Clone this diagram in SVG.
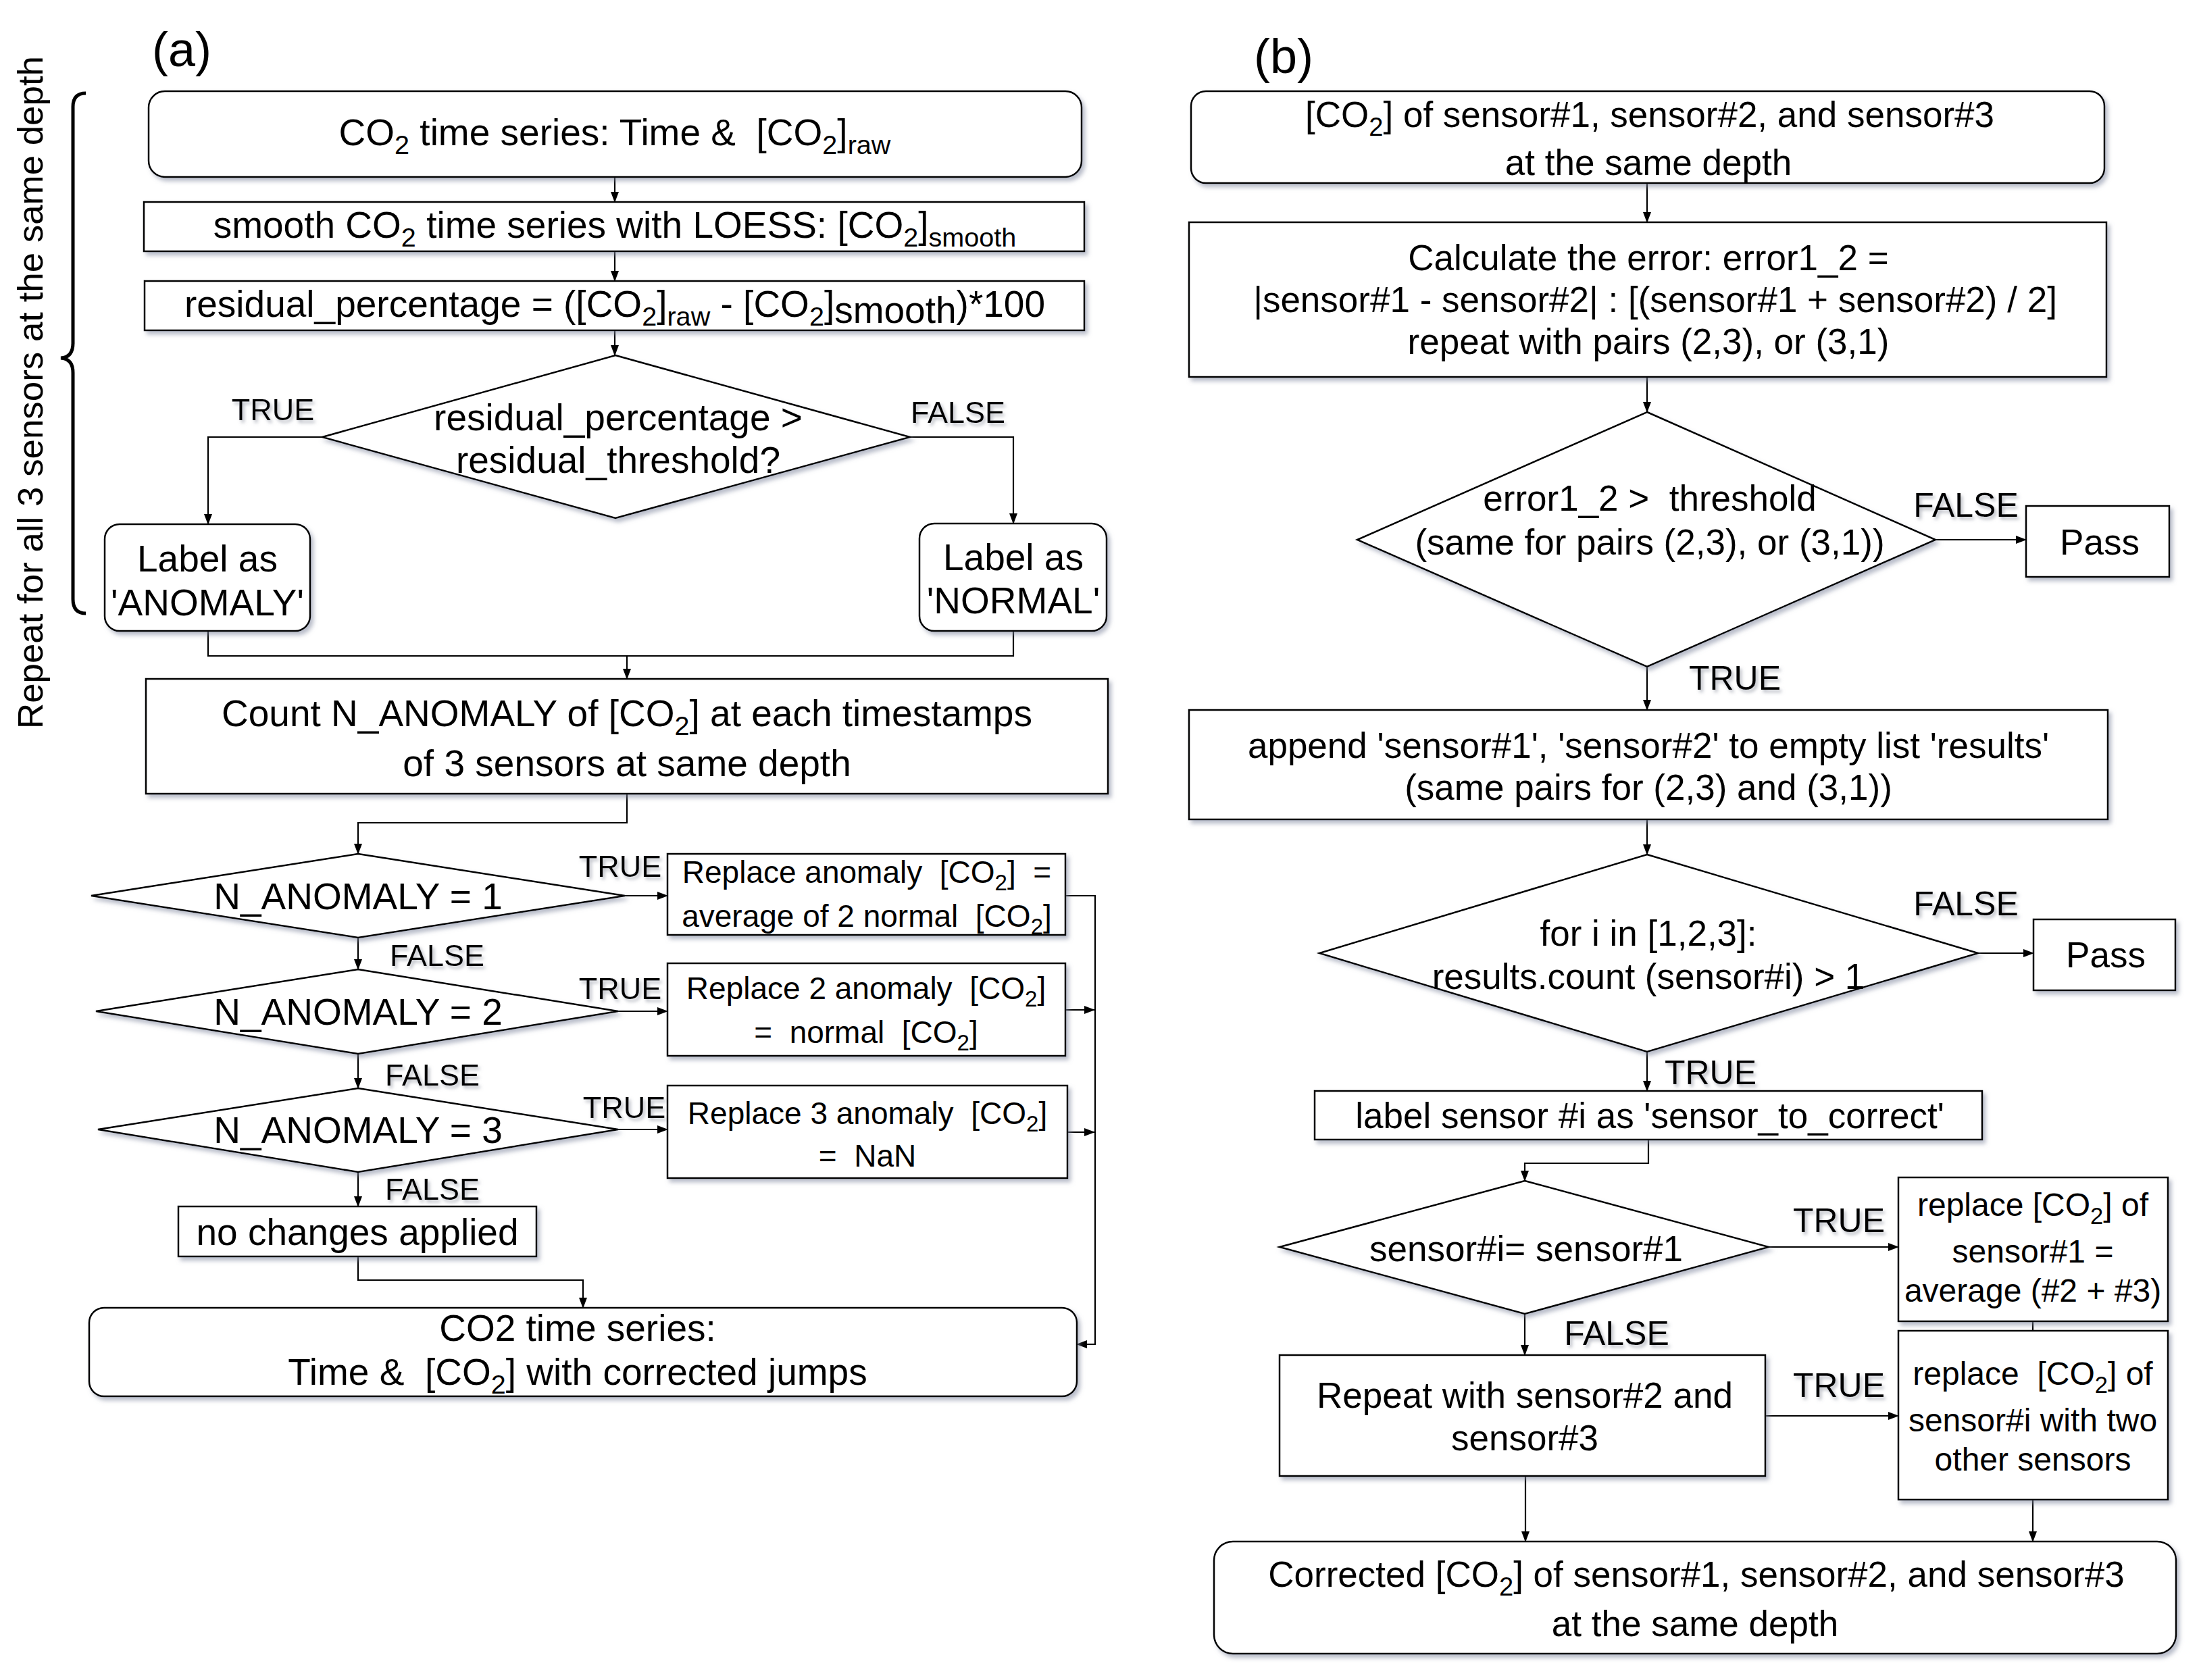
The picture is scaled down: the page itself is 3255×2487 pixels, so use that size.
<svg xmlns="http://www.w3.org/2000/svg" width="3255" height="2487" viewBox="0 0 3255 2487" xml:space="preserve">
<defs>
<marker id="ah" markerUnits="userSpaceOnUse" markerWidth="16" markerHeight="12" refX="15" refY="6" orient="auto"><path d="M0,0 L16,6 L0,12 z" fill="#000"/></marker>
<filter id="sh" x="-5%" y="-10%" width="115%" height="130%"><feDropShadow dx="4" dy="5" stdDeviation="3" flood-color="#7d869c" flood-opacity="0.55"/></filter>
<filter id="tsh" x="-10%" y="-20%" width="130%" height="160%"><feDropShadow dx="3" dy="4" stdDeviation="2.5" flood-color="#8a8f9c" flood-opacity="0.6"/></filter>
</defs>
<style>
.bx{fill:#fff;stroke:#000;stroke-width:2.5;filter:url(#sh)}
.cn{fill:none;stroke:#000;stroke-width:2.2}
.ar{marker-end:url(#ah)}
text{font-family:"Liberation Sans",Arial,sans-serif;fill:#000;white-space:pre}
.t{font-size:55px;text-anchor:middle}
.tb{font-size:53px;text-anchor:middle}
.ts{font-size:46px;text-anchor:middle}
.tm{font-size:48px;text-anchor:middle}
.lb{font-size:45px;text-anchor:middle;filter:url(#tsh)}
.lbb{font-size:50px;text-anchor:middle;filter:url(#tsh)}
.s{font-size:72%}
</style>
<rect width="3255" height="2487" fill="#fff"/>

<!-- Panel labels -->
<text x="225" y="98" font-size="72">(a)</text>
<text x="1856" y="108" font-size="72">(b)</text>

<!-- Side annotation -->
<g id="repeat-brace">
<path d="M127,138 Q108,138 108,158 L108,508 Q108,529 90,530 Q108,531 108,552 L108,887 Q108,908 127,908" fill="none" stroke="#000" stroke-width="5"/>
<text transform="translate(44,581) rotate(-90)" x="0" y="19" font-size="52" text-anchor="middle" textLength="996" lengthAdjust="spacingAndGlyphs">Repeat for all 3 sensors at the same depth</text>
</g>

<!-- Connectors -->
<g id="connectors">
<!-- panel a -->
<path class="cn ar" d="M910,262 V299"/>
<path class="cn ar" d="M910,372 V416"/>
<path class="cn ar" d="M910,489 V526"/>
<path class="cn ar" d="M477,647 H308 V776"/>
<path class="cn ar" d="M1347,647 H1500 V775"/>
<path class="cn" d="M308,934 V971 H1500 V934"/>
<path class="cn ar" d="M928,971 V1005"/>
<path class="cn ar" d="M928,1175 V1218 H530 V1264"/>
<path class="cn ar" d="M925,1326 H988"/>
<path class="cn ar" d="M530,1388 V1435"/>
<path class="cn ar" d="M915,1497 H988"/>
<path class="cn ar" d="M530,1560 V1611"/>
<path class="cn ar" d="M915,1672 H988"/>
<path class="cn ar" d="M530,1735 V1786"/>
<path class="cn ar" d="M530,1860 V1895 H863 V1936"/>
<path class="cn ar" d="M1577,1326 H1621 V1990 H1594"/>
<path class="cn ar" d="M1577,1495 H1620"/>
<path class="cn ar" d="M1580,1676 H1620"/>
<!-- panel b -->
<path class="cn ar" d="M2438,271 V329"/>
<path class="cn ar" d="M2438,558 V610"/>
<path class="cn ar" d="M2865,799 H2999"/>
<path class="cn ar" d="M2438,987 V1051"/>
<path class="cn ar" d="M2438,1213 V1265"/>
<path class="cn ar" d="M2928,1411 H3010"/>
<path class="cn ar" d="M2438,1557 V1615"/>
<path class="cn ar" d="M2440,1687 V1722 H2257 V1748"/>
<path class="cn ar" d="M2618,1846 H2810"/>
<path class="cn" d="M3009,1956 V1970"/>
<path class="cn ar" d="M2257,1945 V2006"/>
<path class="cn ar" d="M2613,2096 H2810"/>
<path class="cn ar" d="M2258,2185 V2282"/>
<path class="cn ar" d="M3009,2220 V2282"/>
</g>

<!-- Edge labels -->
<g id="edge-labels">
<text class="lb" x="404" y="622">TRUE</text>
<text class="lb" x="1418" y="626">FALSE</text>
<text class="lb" x="918" y="1298">TRUE</text>
<text class="lb" x="647" y="1430">FALSE</text>
<text class="lb" x="918" y="1479">TRUE</text>
<text class="lb" x="640" y="1607">FALSE</text>
<text class="lb" x="924" y="1655">TRUE</text>
<text class="lb" x="640" y="1776">FALSE</text>
<text class="lbb" x="2910" y="765">FALSE</text>
<text class="lbb" x="2568" y="1021">TRUE</text>
<text class="lbb" x="2910" y="1355">FALSE</text>
<text class="lbb" x="2532" y="1605">TRUE</text>
<text class="lbb" x="2722" y="1824">TRUE</text>
<text class="lbb" x="2393" y="1991">FALSE</text>
<text class="lbb" x="2722" y="2068">TRUE</text>
</g>

<!-- Panel (a) nodes -->
<g id="a-start">
<rect class="bx" x="220" y="135" width="1381" height="127" rx="24"/>
<text class="t" x="910" y="215">CO<tspan class="s" dy="13">2</tspan><tspan dy="-13"> time series: Time &amp;  [CO</tspan><tspan class="s" dy="13">2</tspan><tspan dy="-13">]</tspan><tspan class="s" dy="13">raw</tspan></text>
</g>
<g id="a-smooth">
<rect class="bx" x="213" y="299" width="1392" height="73"/>
<text class="t" x="910" y="352">smooth CO<tspan class="s" dy="13">2</tspan><tspan dy="-13"> time series with LOESS: [CO</tspan><tspan class="s" dy="13">2</tspan><tspan dy="-13">]</tspan><tspan class="s" dy="13">smooth</tspan></text>
</g>
<g id="a-residual">
<rect class="bx" x="214" y="416" width="1391" height="73"/>
<text class="t" x="910" y="469">residual_percentage = ([CO<tspan class="s" dy="13">2</tspan><tspan dy="-13">]</tspan><tspan class="s" dy="13">raw</tspan><tspan dy="-13"> - [CO</tspan><tspan class="s" dy="13">2</tspan><tspan dy="-13">]</tspan><tspan dy="9">smooth</tspan><tspan dy="-9">)*100</tspan></text>
</g>
<g id="a-decision">
<polygon class="bx" points="911,526 1347,647 911,767 477,647"/>
<text class="t" x="915" y="637">residual_percentage &gt;</text>
<text class="t" x="915" y="700">residual_threshold?</text>
</g>
<g id="a-anomaly">
<rect class="bx" x="155" y="776" width="304" height="158" rx="22"/>
<text class="t" x="307" y="846">Label as</text>
<text class="t" x="307" y="911">'ANOMALY'</text>
</g>
<g id="a-normal">
<rect class="bx" x="1361" y="775" width="277" height="159" rx="22"/>
<text class="t" x="1500" y="844">Label as</text>
<text class="t" x="1500" y="908">'NORMAL'</text>
</g>
<g id="a-count">
<rect class="bx" x="216" y="1005" width="1424" height="170"/>
<text class="t" x="928" y="1075">Count N_ANOMALY of [CO<tspan class="s" dy="13">2</tspan><tspan dy="-13">] at each timestamps</tspan></text>
<text class="t" x="928" y="1149">of 3 sensors at same depth</text>
</g>
<g id="a-n1">
<polygon class="bx" points="530,1264 925,1326 530,1388 135,1326"/>
<text class="t" x="530" y="1346">N_ANOMALY = 1</text>
</g>
<g id="a-r1">
<rect class="bx" x="988" y="1264" width="589" height="120"/>
<text class="ts" x="1283" y="1307">Replace anomaly  [CO<tspan class="s" dy="11">2</tspan><tspan dy="-11">]  =</tspan></text>
<text class="ts" x="1283" y="1372">average of 2 normal  [CO<tspan class="s" dy="11">2</tspan><tspan dy="-11">]</tspan></text>
</g>
<g id="a-n2">
<polygon class="bx" points="530,1435 915,1497 530,1560 142,1497"/>
<text class="t" x="530" y="1517">N_ANOMALY = 2</text>
</g>
<g id="a-r2">
<rect class="bx" x="988" y="1426" width="589" height="137"/>
<text class="ts" x="1282" y="1479">Replace 2 anomaly  [CO<tspan class="s" dy="11">2</tspan><tspan dy="-11">]</tspan></text>
<text class="ts" x="1282" y="1544">=  normal  [CO<tspan class="s" dy="11">2</tspan><tspan dy="-11">]</tspan></text>
</g>
<g id="a-n3">
<polygon class="bx" points="530,1611 915,1672 530,1735 145,1672"/>
<text class="t" x="530" y="1692">N_ANOMALY = 3</text>
</g>
<g id="a-r3">
<rect class="bx" x="988" y="1607" width="592" height="137"/>
<text class="ts" x="1284" y="1664">Replace 3 anomaly  [CO<tspan class="s" dy="11">2</tspan><tspan dy="-11">]</tspan></text>
<text class="ts" x="1284" y="1727">=  NaN</text>
</g>
<g id="a-nochange">
<rect class="bx" x="264" y="1786" width="530" height="74"/>
<text class="t" x="529" y="1843">no changes applied</text>
</g>
<g id="a-end">
<rect class="bx" x="132" y="1936" width="1462" height="131" rx="22"/>
<text class="t" x="855" y="1985">CO2 time series:</text>
<text class="t" x="855" y="2050">Time &amp;  [CO<tspan class="s" dy="13">2</tspan><tspan dy="-13">] with corrected jumps</tspan></text>
</g>

<!-- Panel (b) nodes -->
<g id="b-start">
<rect class="bx" x="1763" y="135" width="1352" height="136" rx="22"/>
<text class="tb" x="2442" y="188">[CO<tspan class="s" dy="13">2</tspan><tspan dy="-13">] of sensor#1, sensor#2, and sensor#3</tspan></text>
<text class="tb" x="2440" y="259">at the same depth</text>
</g>
<g id="b-error">
<rect class="bx" x="1760" y="329" width="1358" height="229"/>
<text class="tb" x="2440" y="400">Calculate the error: error1_2 =</text>
<text class="tb" x="2450" y="462">|sensor#1 - sensor#2| : [(sensor#1 + sensor#2) / 2]</text>
<text class="tb" x="2440" y="524">repeat with pairs (2,3), or (3,1)</text>
</g>
<g id="b-threshold">
<polygon class="bx" points="2438,610 2865,799 2438,987 2009,799"/>
<text class="tb" x="2442" y="756">error1_2 &gt;  threshold</text>
<text class="tb" x="2442" y="821">(same for pairs (2,3), or (3,1))</text>
</g>
<g id="b-pass1">
<rect class="bx" x="2999" y="749" width="212" height="105"/>
<text class="tb" x="3108" y="821">Pass</text>
</g>
<g id="b-append">
<rect class="bx" x="1760" y="1051" width="1360" height="162"/>
<text class="tb" x="2440" y="1122">append 'sensor#1', 'sensor#2' to empty list 'results'</text>
<text class="tb" x="2440" y="1184">(same pairs for (2,3) and (3,1))</text>
</g>
<g id="b-count">
<polygon class="bx" points="2438,1265 2928,1411 2438,1557 1953,1411"/>
<text class="tb" x="2440" y="1400">for i in [1,2,3]:</text>
<text class="tb" x="2440" y="1464">results.count (sensor#i) &gt; 1</text>
</g>
<g id="b-pass2">
<rect class="bx" x="3010" y="1361" width="210" height="105"/>
<text class="tb" x="3117" y="1432">Pass</text>
</g>
<g id="b-label">
<rect class="bx" x="1946" y="1615" width="988" height="72"/>
<text class="tb" x="2442" y="1670">label sensor #i as 'sensor_to_correct'</text>
</g>
<g id="b-is1">
<polygon class="bx" points="2257,1748 2618,1846 2257,1945 1894,1846"/>
<text class="tb" x="2259" y="1867">sensor#i= sensor#1</text>
</g>
<g id="b-replace1">
<rect class="bx" x="2810" y="1743" width="399" height="213"/>
<text class="tm" x="3009" y="1800">replace [CO<tspan class="s" dy="12">2</tspan><tspan dy="-12">] of</tspan></text>
<text class="tm" x="3009" y="1869">sensor#1 =</text>
<text class="tm" x="3009" y="1927">average (#2 + #3)</text>
</g>
<g id="b-repeat">
<rect class="bx" x="1894" y="2006" width="719" height="179"/>
<text class="tb" x="2257" y="2084">Repeat with sensor#2 and</text>
<text class="tb" x="2257" y="2147">sensor#3</text>
</g>
<g id="b-replace2">
<rect class="bx" x="2810" y="1970" width="399" height="250"/>
<text class="tm" x="3009" y="2050">replace  [CO<tspan class="s" dy="12">2</tspan><tspan dy="-12">] of</tspan></text>
<text class="tm" x="3009" y="2119">sensor#i with two</text>
<text class="tm" x="3009" y="2177">other sensors</text>
</g>
<g id="b-end">
<rect class="bx" x="1797" y="2282" width="1424" height="166" rx="28"/>
<text class="tb" x="2511" y="2349">Corrected [CO<tspan class="s" dy="13">2</tspan><tspan dy="-13">] of sensor#1, sensor#2, and sensor#3</tspan></text>
<text class="tb" x="2509" y="2422">at the same depth</text>
</g>
</svg>
